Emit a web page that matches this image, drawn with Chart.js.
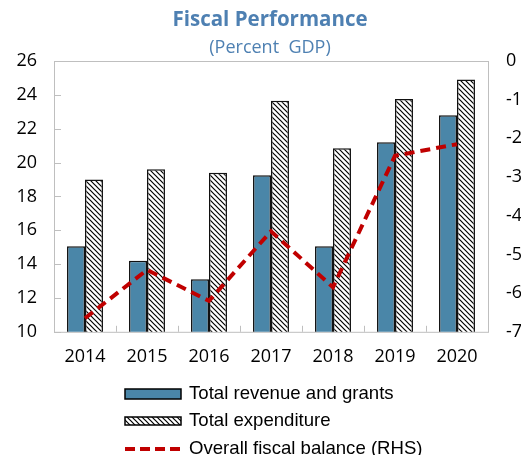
<!DOCTYPE html>
<html lang="en">
<head>
<meta charset="UTF-8">
<title>Fiscal Performance</title>
<script src="https://cdn.jsdelivr.net/npm/chart.js@4.4.1/dist/chart.umd.min.js"></script>
<style>
  html, body { margin: 0; padding: 0; background: #fff; overflow: hidden; }
  #wrap { width: 540px; height: 455px; }
</style>
</head>
<body>
<div id="wrap"><canvas id="fiscalChart" width="540" height="455"></canvas></div>
<script>
// data
const years = ['2014', '2015', '2016', '2017', '2018', '2019', '2020'];
const revenue = [15.05, 14.2, 13.1, 19.25, 15.05, 21.2, 22.8];
const expenditure = [19.0, 19.6, 19.4, 23.65, 20.85, 23.75, 24.9];
const balance = [-6.65, -5.4, -6.2, -4.4, -5.85, -2.45, -2.15];
const leftTicks = [10, 12, 14, 16, 18, 20, 22, 24, 26];
const rightTicks = [-7, -6, -5, -4, -3, -2, -1, 0];

const BLUE = '#4A86A8';
const RED = '#C00000';
const FRAME = '#BFBFBF';

// diagonal hatch for the expenditure bars
function makeHatch() {
  const c = document.createElement('canvas');
  c.width = 5; c.height = 5;
  const g = c.getContext('2d');
  g.fillStyle = '#fff';
  g.fillRect(0, 0, 5, 5);
  g.strokeStyle = '#000';
  g.lineWidth = 1.2;
  g.beginPath();
  g.moveTo(-1, -1); g.lineTo(6, 6);
  g.moveTo(-1, 4); g.lineTo(1, 6);
  g.moveTo(4, -1); g.lineTo(6, 1);
  g.stroke();
  return g.createPattern(c, 'repeat');
}
const hatch = makeHatch();

// box around the plot plus the short inside ticks
const framePlugin = {
  id: 'frame',
  beforeDatasetsDraw(chart) {
    const { ctx, chartArea: a, scales } = chart;
    ctx.save();
    ctx.strokeStyle = FRAME;
    ctx.lineWidth = 1;
    ctx.strokeRect(a.left + 0.5, a.top + 0.5, a.right - a.left, a.bottom - a.top);
    ctx.beginPath();
    leftTicks.forEach(v => {
      const y = Math.round(scales.y.getPixelForValue(v)) + 0.5;
      ctx.moveTo(a.left, y);
      ctx.lineTo(a.left + 7, y);
    });
    for (let i = 0; i < years.length - 1; i++) {
      const x = Math.round((scales.x.getPixelForTick(i) + scales.x.getPixelForTick(i + 1)) / 2) + 0.5;
      ctx.moveTo(x, a.bottom);
      ctx.lineTo(x, a.bottom - 6);
    }
    ctx.stroke();
    ctx.restore();
  }
};

// stacked legend under the chart
const legendPlugin = {
  id: 'stackedLegend',
  afterDraw(chart) {
    const ctx = chart.ctx;
    const ds = chart.data.datasets;
    const x0 = 125, w = 56, tx = 189;
    const rows = [394, 421, 449];
    ctx.save();
    ctx.font = '18.6px "Liberation Sans", Arial, sans-serif';
    ctx.textBaseline = 'middle';
    // revenue
    ctx.fillStyle = BLUE;
    ctx.fillRect(x0, rows[0] - 5, w, 10);
    ctx.strokeStyle = '#000';
    ctx.lineWidth = 1.5;
    ctx.strokeRect(x0, rows[0] - 5, w, 10);
    // expenditure
    ctx.fillStyle = hatch;
    ctx.fillRect(x0, rows[1] - 4, w, 8);
    ctx.strokeRect(x0, rows[1] - 4, w, 8);
    // balance line
    ctx.strokeStyle = RED;
    ctx.lineWidth = 4;
    ctx.setLineDash([10, 5]);
    ctx.beginPath();
    ctx.moveTo(x0, rows[2]);
    ctx.lineTo(x0 + w + 2, rows[2]);
    ctx.stroke();
    ctx.setLineDash([]);
    ctx.fillStyle = '#000';
    ds.forEach((d, i) => ctx.fillText(d.label, tx, rows[i]));
    ctx.restore();
  }
};

Chart.defaults.font.family = '"Open Sans", sans-serif';
Chart.defaults.color = '#000';

new Chart(document.getElementById('fiscalChart'), {
  type: 'bar',
  data: {
    labels: years,
    datasets: [
      {
        label: 'Total revenue and grants',
        data: revenue,
        backgroundColor: BLUE,
        borderColor: '#111',
        borderWidth: 1.5,
        borderSkipped: false,
        order: 1,
        yAxisID: 'y'
      },
      {
        label: 'Total expenditure',
        data: expenditure,
        backgroundColor: hatch,
        borderColor: '#111',
        borderWidth: 1.5,
        borderSkipped: false,
        order: 2,
        yAxisID: 'y'
      },
      {
        type: 'line',
        label: 'Overall fiscal balance (RHS)',
        data: balance,
        borderColor: RED,
        borderWidth: 4,
        borderDash: [10, 6],
        pointRadius: 0,
        tension: 0,
        fill: false,
        order: 0,
        yAxisID: 'y1'
      }
    ]
  },
  options: {
    responsive: false,
    devicePixelRatio: 1,
    animation: false,
    categoryPercentage: 0.58,
    barPercentage: 1.0,
    layout: { padding: { left: 0, right: 0, top: 0, bottom: 73.6 } },
    plugins: {
      legend: { display: false },
      tooltip: { enabled: false },
      title: {
        display: true,
        text: 'Fiscal Performance',
        color: '#4E80B2',
        font: { size: 20.5, weight: 'bold', lineHeight: 1.2 },
        padding: { top: 8, bottom: 0 }
      },
      subtitle: {
        display: true,
        text: '(Percent  GDP)',
        color: '#4E80B2',
        font: { size: 18, lineHeight: 1.2 },
        padding: { top: 4, bottom: 2.8 }
      }
    },
    scales: {
      x: {
        grid: { display: false, drawTicks: false },
        border: { display: false },
        ticks: { font: { size: 18 }, padding: 14, maxRotation: 0 }
      },
      y: {
        position: 'left',
        min: leftTicks[0],
        max: leftTicks[leftTicks.length - 1],
        grid: { display: false, drawTicks: false },
        border: { display: false },
        ticks: { stepSize: leftTicks[1] - leftTicks[0], font: { size: 18 }, padding: 17 },
        afterFit(s) { s.width = 54; }
      },
      y1: {
        position: 'right',
        min: rightTicks[0],
        max: rightTicks[rightTicks.length - 1],
        grid: { display: false, drawTicks: false },
        border: { display: false },
        ticks: { stepSize: rightTicks[1] - rightTicks[0], font: { size: 18 }, padding: 18 },
        afterFit(s) { s.width = 52; }
      }
    }
  },
  plugins: [framePlugin, legendPlugin]
});
</script>
</body>
</html>
